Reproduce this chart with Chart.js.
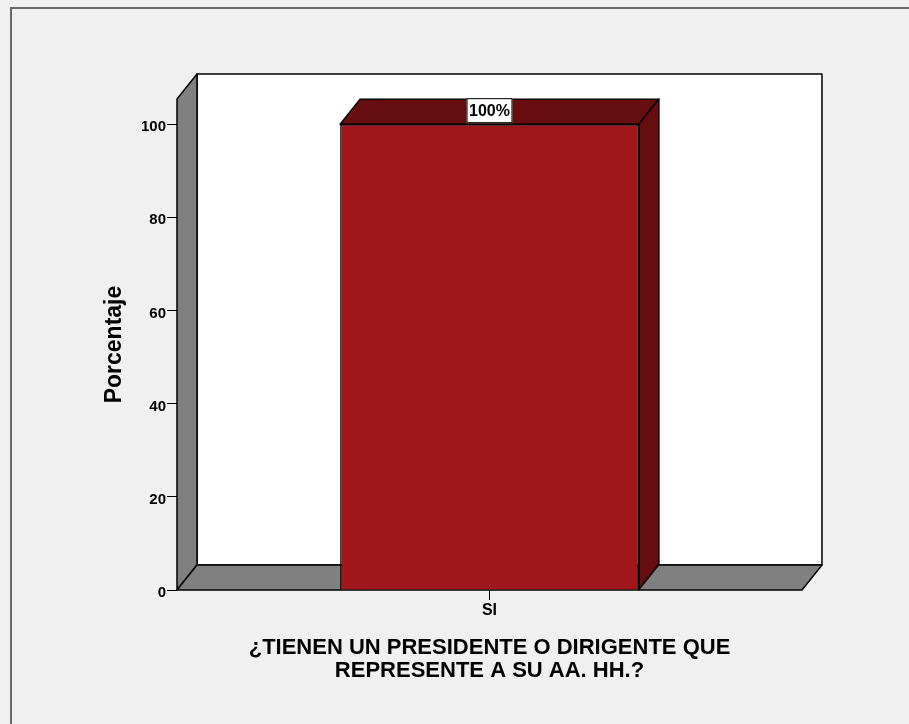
<!DOCTYPE html>
<html>
<head>
<meta charset="utf-8">
<script src="https://cdn.jsdelivr.net/npm/chart.js@4/dist/chart.umd.min.js"></script>
<style>
  html, body { margin: 0; padding: 0; background: #f0f0f0; }
  canvas { display: block; }
</style>
</head>
<body>
<canvas id="c" width="909" height="724"></canvas>
<script>
// ---- data ----
const categories = ['SI'];
const percentages = [100];
const tickValues = [0, 20, 40, 60, 80, 100];
const yAxisTitle = 'Porcentaje';
const xAxisTitle = ['¿TIENEN UN PRESIDENTE O DIRIGENTE QUE', 'REPRESENTE A SU AA. HH.?'];

const FONT = "'Liberation Sans', Arial, sans-serif";
const DX = 20, DY = 25; // 3D depth

const frame3d = {
  id: 'frame3d',
  beforeDraw(chart) {
    const ctx = chart.ctx;
    ctx.save();
    ctx.fillStyle = '#f0f0f0';
    ctx.fillRect(0, 0, chart.width, chart.height);
    ctx.strokeStyle = '#6a6a6a';
    ctx.lineWidth = 2;
    ctx.beginPath();
    ctx.moveTo(11, chart.height);
    ctx.lineTo(11, 8);
    ctx.lineTo(chart.width, 8);
    ctx.stroke();
    ctx.restore();
  },
  beforeDatasetsDraw(chart) {
    const {ctx, chartArea: a} = chart;
    ctx.save();
    ctx.lineWidth = 1.5;
    ctx.strokeStyle = '#000';
    ctx.lineJoin = 'round';
    // back wall
    ctx.fillStyle = '#ffffff';
    ctx.beginPath();
    ctx.rect(a.left + DX, a.top - DY, a.right - a.left, a.bottom - a.top);
    ctx.fill();
    ctx.stroke();
    // left wall
    ctx.fillStyle = '#808080';
    ctx.beginPath();
    ctx.moveTo(a.left, a.top);
    ctx.lineTo(a.left + DX, a.top - DY);
    ctx.lineTo(a.left + DX, a.bottom - DY);
    ctx.lineTo(a.left, a.bottom);
    ctx.closePath();
    ctx.fill();
    ctx.stroke();
    // floor
    ctx.beginPath();
    ctx.moveTo(a.left, a.bottom);
    ctx.lineTo(a.left + DX, a.bottom - DY);
    ctx.lineTo(a.right + DX, a.bottom - DY);
    ctx.lineTo(a.right, a.bottom);
    ctx.closePath();
    ctx.fill();
    ctx.stroke();
    // bar depth faces
    const meta = chart.getDatasetMeta(0);
    meta.data.forEach((bar) => {
      const xl = bar.x - bar.width / 2, xr = bar.x + bar.width / 2;
      const yt = bar.y, yb = bar.base;
      ctx.fillStyle = '#650d0f';
      ctx.beginPath();
      ctx.moveTo(xl, yt);
      ctx.lineTo(xl + DX, yt - DY);
      ctx.lineTo(xr + DX, yt - DY);
      ctx.lineTo(xr, yt);
      ctx.closePath();
      ctx.fill();
      ctx.stroke();
      ctx.beginPath();
      ctx.moveTo(xr, yt);
      ctx.lineTo(xr + DX, yt - DY);
      ctx.lineTo(xr + DX, yb - DY);
      ctx.lineTo(xr, yb);
      ctx.closePath();
      ctx.fill();
      ctx.stroke();
    });
    ctx.restore();
  },
  afterDatasetsDraw(chart) {
    const ctx = chart.ctx;
    const meta = chart.getDatasetMeta(0);
    ctx.save();
    ctx.font = 'bold 16px ' + FONT;
    ctx.textAlign = 'center';
    ctx.textBaseline = 'middle';
    meta.data.forEach((bar, i) => {
      const txt = percentages[i] + '%';
      const w = ctx.measureText(txt).width + 5;
      const h = 25;
      const cx = bar.x, cy = bar.y - 13.5;
      ctx.fillStyle = '#ffffff';
      ctx.fillRect(cx - w / 2, cy - h / 2, w, h);
      ctx.strokeStyle = '#000';
      ctx.lineWidth = 1;
      ctx.strokeRect(cx - w / 2 + 0.5, cy - h / 2 + 0.5, w - 1, h - 1);
      ctx.fillStyle = '#000';
      ctx.fillText(txt, cx, cy + 1);
    });
    ctx.restore();
  }
};

new Chart(document.getElementById('c'), {
  type: 'bar',
  data: {
    labels: categories,
    datasets: [{
      data: percentages,
      backgroundColor: '#a1161a',
      borderColor: '#000',
      borderWidth: 1.5,
      categoryPercentage: 1,
      barPercentage: 0.478
    }]
  },
  options: {
    responsive: false,
    devicePixelRatio: 1,
    animation: false,
    layout: { padding: { left: 100, right: 107, top: 99, bottom: 0 } },
    plugins: { legend: { display: false }, tooltip: { enabled: false } },
    scales: {
      x: {
        offset: true,
        grid: { display: true, drawOnChartArea: false, drawTicks: true, tickLength: 10, offset: false, color: '#000', lineWidth: 1 },
        border: { display: false },
        ticks: { color: '#000', font: { family: FONT, size: 16, weight: 'bold' }, padding: 1 },
        title: {
          display: true, text: xAxisTitle, color: '#000',
          font: { family: FONT, size: 22, weight: 'bold', lineHeight: '22.5px' },
          padding: { top: 4, bottom: 42 }
        },
        afterFit(scale) { scale.height = 134; }
      },
      y: {
        min: 0, max: 105.4,
        ticks: {
          stepSize: 20, color: '#000', padding: 1, labelOffset: 3,
          font: { family: FONT, size: 15, weight: 'bold' }
        },
        afterBuildTicks(scale) {
          scale.ticks = tickValues.map(v => ({ value: v }));
        },
        grid: { display: true, drawOnChartArea: false, drawTicks: true, tickLength: 10, color: '#000', lineWidth: 1 },
        border: { display: false },
        title: {
          display: true, text: yAxisTitle, color: '#000',
          font: { family: FONT, size: 23, weight: 'bold' },
          padding: { top: 1, bottom: 0 }
        },
        afterFit(scale) { scale.width = 77; }
      }
    }
  },
  plugins: [frame3d]
});
</script>
</body>
</html>
